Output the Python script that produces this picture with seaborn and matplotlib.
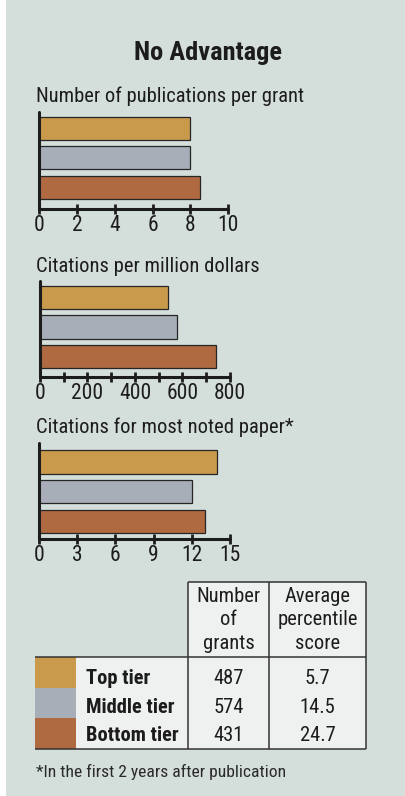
import matplotlib
matplotlib.use("Agg")
import matplotlib.pyplot as plt
from matplotlib.patches import Rectangle
from matplotlib.lines import Line2D
from matplotlib.ticker import MultipleLocator
import matplotlib.font_manager as fm
import seaborn as sns
import pandas as pd

# ---- data ----
tiers = ["Top tier", "Middle tier", "Bottom tier"]
tier_colors = ["#c99a4c", "#a7aeb8", "#b06a42"]

pubs_per_grant = [8.0, 8.0, 8.5]
citations_per_million = [540, 575, 740]
citations_top_paper = [14, 12, 13]

panel_titles = [
    "Number of publications per grant",
    "Citations per million dollars",
    "Citations for most noted paper*",
]

num_grants = ["487", "574", "431"]
avg_percentile = ["5.7", "14.5", "24.7"]
table_headers = ["Number\nof\ngrants", "Average\npercentile\nscore"]

footnote = "*In the first 2 years after publication"
main_title = "No Advantage"

# ---- style ----
sns.set_theme(style="white")
installed = {f.name for f in fm.fontManager.ttflist}
narrow = [f for f in ["Liberation Sans Narrow", "Roboto Condensed",
                      "DejaVu Sans Condensed", "Liberation Sans"] if f in installed]
plt.rcParams["font.family"] = narrow + ["DejaVu Sans"]

INK = "#1c1c1c"
PANEL = "#d4dedb"
CELL = "#eef1ef"
FS = 14.8

W, H = 406, 796
fig = plt.figure(figsize=(W / 100, H / 100), dpi=100)
fig.patch.set_facecolor("white")
fig.patches.append(Rectangle((6 / W, 0), 1.02 - 6 / W, 1.01, transform=fig.transFigure,
                             facecolor=PANEL, edgecolor="none", zorder=-10))


def px_axes(x0, y0, x1, y1):
    """Axes placed by pixel box (top-left origin)."""
    return fig.add_axes([x0 / W, 1 - y1 / H, (x1 - x0) / W, (y1 - y0) / H])


def ftext(x, y, s, **kw):
    kw.setdefault("color", INK)
    return fig.text(x / W, 1 - y / H, s, **kw)


ftext(208, 60, main_title, ha="center", va="baseline", fontsize=19, fontweight="bold")

# bar panels: (values, xmax, major step, minor step, axis box, ylim, title baseline)
panels = [
    (pubs_per_grant, 10, 2, None, (39, 112.3, 228.3, 209.0), (2.74, -0.54), 101.7),
    (citations_per_million, 800, 200, 100, (40, 281.0, 230.0, 376.7), (2.70, -0.57), 271.7),
    (citations_top_paper, 15, 3, None, (39, 442.7, 230.0, 539.3), (2.60, -0.65), 433.3),
]

for (vals, xmax, major, minor, box, ylim, tb), title in zip(panels, panel_titles):
    ax = px_axes(*box)
    df = pd.DataFrame({"tier": tiers, "value": vals})
    sns.barplot(data=df, x="value", y="tier", hue="tier", palette=tier_colors,
                order=tiers, hue_order=tiers, orient="h", width=0.79, saturation=1,
                edgecolor="#262626", linewidth=0.9, legend=False, ax=ax)
    ax.set_facecolor("none")
    ax.set_xlim(0, xmax)
    ax.set_ylim(*ylim)
    ax.set_xlabel("")
    ax.set_ylabel("")
    ax.set_yticks([])
    ax.xaxis.set_major_locator(MultipleLocator(major))
    if minor:
        ax.xaxis.set_minor_locator(MultipleLocator(minor))
    for side in ("top", "right"):
        ax.spines[side].set_visible(False)
    for side in ("left", "bottom"):
        ax.spines[side].set_color(INK)
        ax.spines[side].set_linewidth(2.2)
        ax.spines[side].set_capstyle("round")
    ax.tick_params(axis="x", which="both", direction="inout", length=6.5, width=2.0,
                   color=INK, bottom=True, labelsize=15.5, labelcolor=INK, pad=1.0)
    ftext(36, tb, title, ha="left", va="baseline", fontsize=FS)

# ---- table ----
tab = fig.add_axes([0, 0, 1, 1])
tab.set_xlim(0, W)
tab.set_ylim(H, 0)
tab.axis("off")

c0, c1, c2, c3 = 35.0, 188.3, 269.3, 365.7
top, head, bot = 581.7, 657.3, 749.0
lw = 1.1
tab.add_patch(Rectangle((c1, top), c3 - c1, head - top, facecolor=CELL, edgecolor="none"))
tab.add_patch(Rectangle((75.7, head), c3 - 75.7, bot - head, facecolor=CELL, edgecolor="none"))
row_h = (bot - head) / 3
for i, col in enumerate(tier_colors):
    tab.add_patch(Rectangle((c0, head + i * row_h), 75.7 - c0, row_h,
                            facecolor=col, edgecolor="none"))
line_kw = dict(color="#333333", lw=lw, solid_capstyle="butt")
tab.add_line(Line2D([c1, c3], [top, top], **line_kw))
tab.add_line(Line2D([c0, c3], [head, head], **line_kw))
tab.add_line(Line2D([c0, c3], [bot, bot], **line_kw))
for x in (c1, c2, c3):
    tab.add_line(Line2D([x, x], [top, bot], **line_kw))

col_centers = [(c1 + c2) / 2, (c2 + c3) / 2]
for cx, hdr in zip(col_centers, table_headers):
    for j, line in enumerate(hdr.split("\n")):
        tab.text(cx, 601.7 + j * 23.7, line, ha="center", va="baseline",
                 fontsize=FS, color=INK)

row_base = [684.3, 712.7, 741.0]
for yb, name, n, p in zip(row_base, tiers, num_grants, avg_percentile):
    tab.text(86, yb, name, ha="left", va="baseline", fontsize=FS,
             fontweight="bold", color=INK)
    tab.text(col_centers[0], yb, n, ha="center", va="baseline", fontsize=FS, color=INK)
    tab.text(col_centers[1], yb, p, ha="center", va="baseline", fontsize=FS, color=INK)

ftext(36, 776.7, footnote, ha="left", va="baseline", fontsize=12.6, color="#2a2a2a")

fig.savefig("out.png", dpi=100, facecolor=fig.get_facecolor())
